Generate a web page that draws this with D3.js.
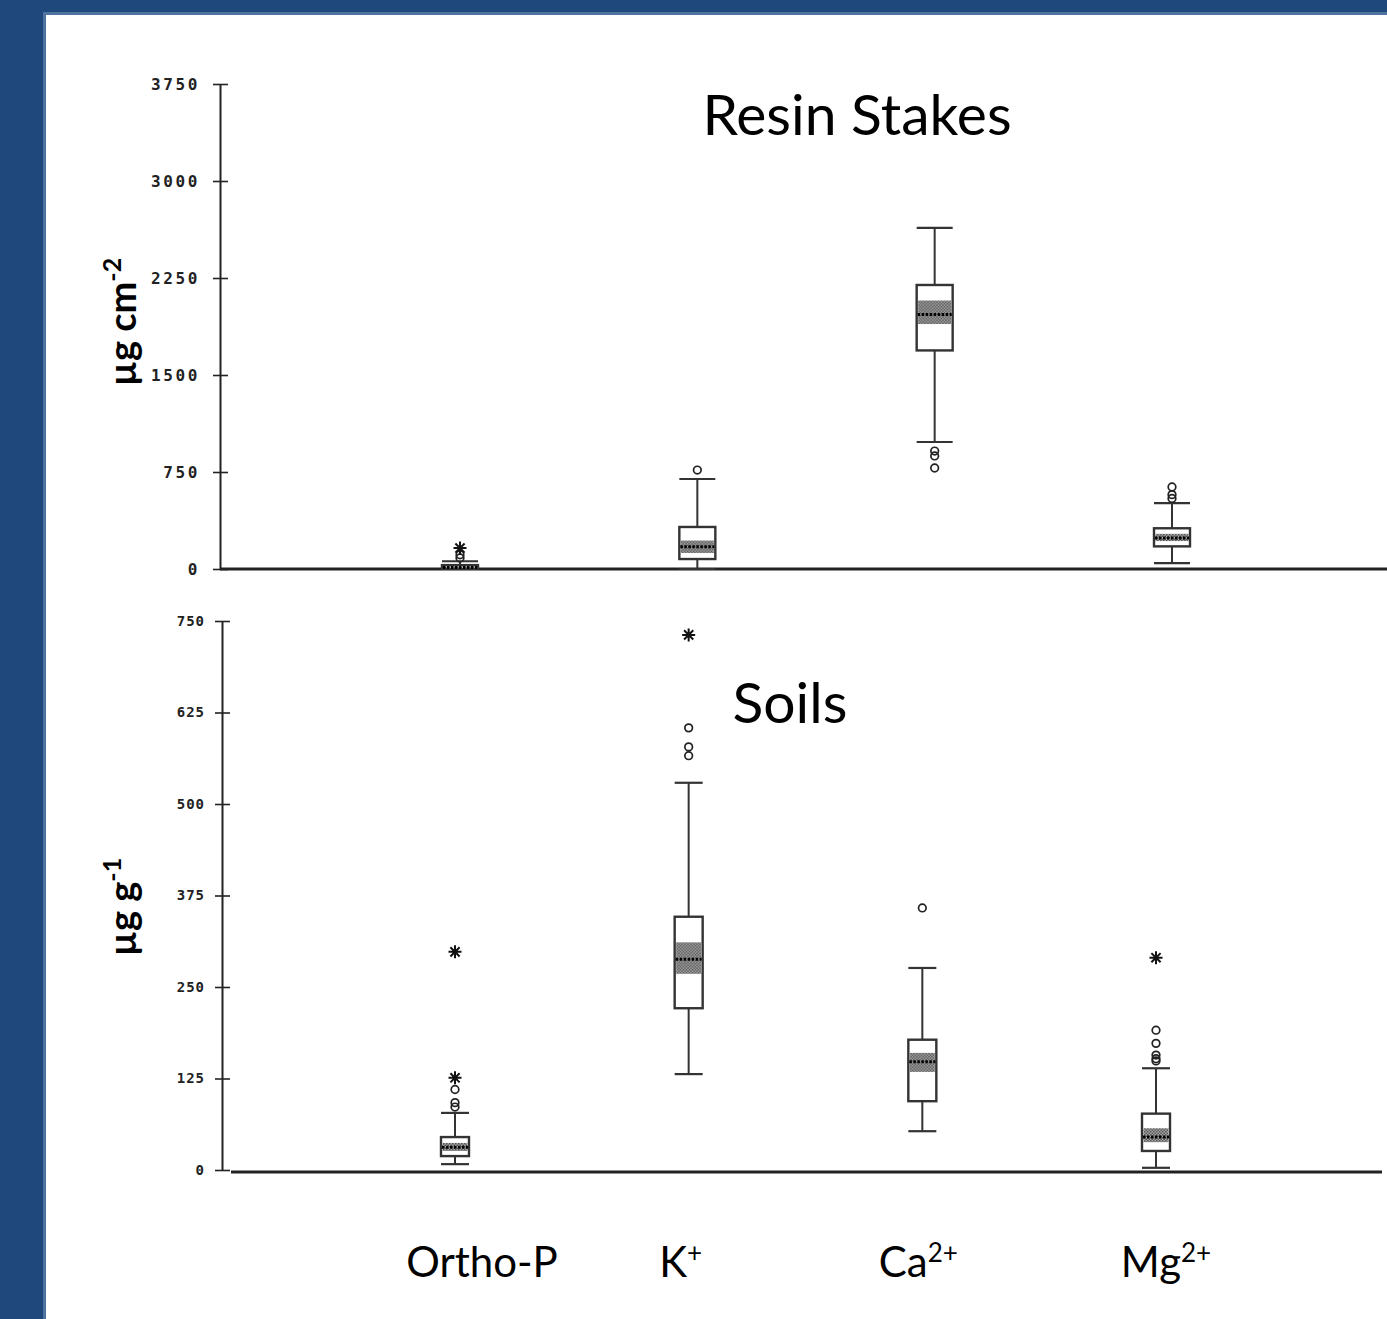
<!DOCTYPE html>
<head>
<meta charset="utf-8">
<script src="https://cdn.jsdelivr.net/npm/d3@7/dist/d3.min.js"></script>
<style>
body { margin: 0; background: #1f497d; }
.tick text { font-family: "DejaVu Sans Mono", monospace; fill: #222; font-weight: bold; }
.lbl { font-family: Lato, "Open Sans", sans-serif; fill: #000; }
</style>
</head>
<body>
<script>

// ions along x
var ions   = ["Ortho-P", "K", "Ca", "Mg"];
var ionSup = ["", "+", "2+", "2+"];

// resin stakes, ug cm-2
var resinLow     = [0, 0, 982, 46];
var resinQ1      = [3, 77, 1690, 175];
var resinMedian  = [12, 172, 1968, 240];
var resinQ3      = [30, 325, 2196, 315];
var resinHigh    = [60, 696, 2637, 510];
var resinCiLow   = [6, 124, 1894, 216];
var resinCiHigh  = [18, 220, 2076, 272];
var resinOutliers = [[110, 85], [765], [912, 874, 781], [634, 575, 545]];
var resinExtremes = [[162], [], [], []];
var resinTicks   = [0, 750, 1500, 2250, 3000, 3750];

// soils, ug g-1
var soilLow     = [8, 131, 53, 3];
var soilQ1      = [19, 221, 94, 26];
var soilMedian  = [31, 288, 148, 45];
var soilQ3      = [45, 346, 178, 77];
var soilHigh    = [78, 529, 276, 139];
var soilCiLow   = [26, 268, 134, 38];
var soilCiHigh  = [37, 311, 160, 57];
var soilOutliers = [[110, 92, 86], [604, 578, 566], [358], [191, 173, 157, 152, 149]];
var soilExtremes = [[298, 126], [731], [], [290]];
var soilTicks   = [0, 125, 250, 375, 500, 625, 750];

var W = 1387, H = 1319;
var svg = d3.select("body").append("svg")
    .attr("width", W)
    .attr("height", H)
    .style("display", "block");

// frame
svg.append("rect").attr("width", W).attr("height", H).attr("fill", "#1f497d");
svg.append("rect").attr("x", 43).attr("y", 12).attr("width", W).attr("height", H).attr("fill", "#4f73a0");
svg.append("rect").attr("x", 46).attr("y", 15).attr("width", W).attr("height", H).attr("fill", "#fff");

// shading pattern for the median notch band
var defs = svg.append("defs");
var pat = defs.append("pattern")
    .attr("id", "shade")
    .attr("patternUnits", "userSpaceOnUse")
    .attr("width", 3).attr("height", 3);
pat.append("rect").attr("width", 3).attr("height", 3).attr("fill", "#a8a8a8");
pat.append("rect").attr("width", 1.5).attr("height", 1.5).attr("fill", "#555");
pat.append("rect").attr("x", 1.5).attr("y", 1.5).attr("width", 1.5).attr("height", 1.5).attr("fill", "#555");

function asterisk(r) {
    var p = "";
    for (var i = 0; i < 4; i++) {
        var a = i * Math.PI / 4;
        var dx = r * Math.cos(a), dy = r * Math.sin(a);
        p += "M" + (-dx) + "," + (-dy) + "L" + dx + "," + dy;
    }
    return p;
}

function panel(o) {
    var x = d3.scalePoint().domain(ions).range(o.xRange);
    var y = d3.scaleLinear().domain(o.domain).range(o.yRange);

    // y axis
    var ax = svg.append("g")
        .attr("transform", "translate(" + o.axisX + ",0)")
        .call(d3.axisLeft(y).tickValues(o.ticks).tickFormat(d3.format("d"))
            .tickSize(7).tickSizeOuter(0).tickPadding(o.pad));
    ax.select(".domain").attr("stroke", "#222").attr("stroke-width", 2);
    ax.selectAll(".tick line").attr("x1", 8).attr("x2", -7).attr("stroke", "#222").attr("stroke-width", 1.6);
    ax.selectAll(".tick text")
        .style("font-size", o.fontSize + "px")
        .style("letter-spacing", o.spacing + "px");

    // baseline
    svg.append("line")
        .attr("x1", o.baseX[0]).attr("x2", o.baseX[1])
        .attr("y1", y(0) + o.baseDy).attr("y2", y(0) + o.baseDy)
        .attr("stroke", "#222").attr("stroke-width", 2.8);

    var bw = o.boxW;
    var rows = ions.map(function(d, i) {
        return {ion: d, lo: o.low[i], q1: o.q1[i], md: o.med[i], q3: o.q3[i], hi: o.high[i],
                cl: o.ciLow[i], ch: o.ciHigh[i], out: o.out[i], ext: o.ext[i]};
    });

    var g = svg.selectAll(null).data(rows).enter().append("g")
        .attr("transform", function(d) { return "translate(" + x(d.ion) + ",0)"; });

    // whiskers
    g.append("line").attr("x1", 0).attr("x2", 0)
        .attr("y1", function(d) { return y(d.hi); })
        .attr("y2", function(d) { return y(d.lo); })
        .attr("stroke", "#333").attr("stroke-width", 2);
    ["lo", "hi"].forEach(function(k) {
        g.append("line").attr("x1", -bw / 2).attr("x2", bw / 2)
            .attr("y1", function(d) { return y(d[k]); })
            .attr("y2", function(d) { return y(d[k]); })
            .attr("stroke", "#333").attr("stroke-width", 2.2);
    });

    // box
    g.append("rect")
        .attr("x", -bw / 2).attr("width", bw)
        .attr("y", function(d) { return y(d.q3); })
        .attr("height", function(d) { return y(d.q1) - y(d.q3); })
        .attr("fill", "#fff").attr("stroke", "#333").attr("stroke-width", 2.4);
    g.append("rect")
        .attr("x", -bw / 2 + 1.5).attr("width", bw - 3)
        .attr("y", function(d) { return y(d.ch); })
        .attr("height", function(d) { return y(d.cl) - y(d.ch); })
        .attr("fill", "url(#shade)");
    g.append("line").attr("x1", -bw / 2 + 1).attr("x2", bw / 2 - 1)
        .attr("y1", function(d) { return y(d.md); })
        .attr("y2", function(d) { return y(d.md); })
        .attr("stroke", "#000").attr("stroke-width", 3).attr("stroke-dasharray", "2.5,1.5");

    // outliers
    g.selectAll("circle").data(function(d) { return d.out; }).enter().append("circle")
        .attr("cx", 0).attr("cy", function(v) { return y(v); }).attr("r", 3.8)
        .attr("fill", "none").attr("stroke", "#222").attr("stroke-width", 1.7);
    g.selectAll("path.ext").data(function(d) { return d.ext; }).enter().append("path")
        .attr("class", "ext")
        .attr("transform", function(v) { return "translate(0," + y(v) + ")"; })
        .attr("d", asterisk(6.5))
        .attr("stroke", "#111").attr("stroke-width", 2);

    // title
    svg.append("text").attr("class", "lbl")
        .attr("x", o.title[1]).attr("y", o.title[2])
        .attr("text-anchor", "middle")
        .style("font-size", "57px")
        .text(o.title[0]);

    // unit label
    var t = svg.append("text").attr("class", "lbl")
        .attr("transform", "translate(136," + o.unitY + ") rotate(-90)")
        .attr("text-anchor", "middle")
        .style("font-size", "38px")
        .style("font-weight", "bold");
    t.append("tspan").text(o.unit[0]);
    t.append("tspan").attr("dy", -15).style("font-size", "25px").text(o.unit[1]);

    return x;
}

panel({
    domain: [0, 3750], yRange: [569, 84], xRange: [460, 1172], axisX: 220,
    ticks: resinTicks, pad: 13, fontSize: 16, spacing: 2.6,
    baseX: [220, W], baseDy: 0, boxW: 36,
    low: resinLow, q1: resinQ1, med: resinMedian, q3: resinQ3, high: resinHigh,
    ciLow: resinCiLow, ciHigh: resinCiHigh, out: resinOutliers, ext: resinExtremes,
    title: ["Resin Stakes", 857, 135], unit: ["\u00b5g cm", "-2"], unitY: 322
});

var xb = panel({
    domain: [0, 750], yRange: [1170, 621], xRange: [455, 1156], axisX: 222,
    ticks: soilTicks, pad: 10, fontSize: 14, spacing: 1,
    baseX: [231, 1382], baseDy: 2, boxW: 28,
    low: soilLow, q1: soilQ1, med: soilMedian, q3: soilQ3, high: soilHigh,
    ciLow: soilCiLow, ciHigh: soilCiHigh, out: soilOutliers, ext: soilExtremes,
    title: ["Soils", 790, 723], unit: ["\u00b5g g", "-1"], unitY: 907
});

// category labels under the soil panel
var labelNudge = [27, -8, -4, 10];
var lab = svg.selectAll(null).data(ions).enter().append("text")
    .attr("class", "lbl")
    .attr("x", function(d, i) { return xb(d) + labelNudge[i]; })
    .attr("y", 1277)
    .attr("text-anchor", "middle")
    .style("font-size", "42px");
lab.append("tspan").text(function(d) { return d; });
lab.append("tspan").attr("dy", -15).style("font-size", "26px").text(function(d, i) { return ionSup[i]; });

</script>
</body>
</html>
